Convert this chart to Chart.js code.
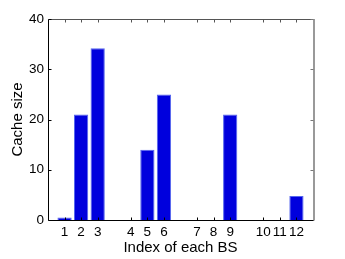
<!DOCTYPE html>
<html>
<head>
<meta charset="utf-8">
<script src="https://cdn.jsdelivr.net/npm/chart.js@4/dist/chart.umd.min.js"></script>
<style>
  html, body { margin: 0; padding: 0; background: #fff; }
  #wrap { width: 345px; height: 259px; position: relative; }
</style>
</head>
<body>
<div id="wrap"><canvas id="chart"></canvas></div>
<script>
// BS index labels, where each sits on the x axis, and the cache size bars
const bsLabels = ["1", "2", "3", "4", "5", "6", "7", "8", "9", "10", "11", "12"];
const bsPositions = [1, 2, 3, 5, 6, 7, 9, 10, 11, 13, 14, 15];
const cacheSize = [0.5, 21, 34.2, 0, 14, 25, 0, 0, 21, 0, 0, 4.8];
const yTicks = [0, 10, 20, 30, 40];

Chart.defaults.font.family = "'Liberation Sans', Arial, sans-serif";
Chart.defaults.font.size = 13.5;
Chart.defaults.color = "#000";

// matlab-ish box with inward tick marks
const boxTicks = {
  id: "boxTicks",
  afterDraw(chart) {
    const { ctx, chartArea: a, scales } = chart;
    const L = Math.round(a.left) + 0.5, R = Math.round(a.right) + 0.5;
    const T = Math.round(a.top) + 0.5, B = Math.round(a.bottom) + 0.5;
    const tl = 3;
    ctx.save();
    ctx.lineWidth = 1;

    // top + right edges (grey)
    ctx.strokeStyle = "#555";
    ctx.beginPath(); ctx.moveTo(L, T); ctx.lineTo(R, T); ctx.stroke();
    bsPositions.forEach(v => {
      const x = Math.round(scales.x.getPixelForValue(v)) + 0.5;
      ctx.beginPath(); ctx.moveTo(x, T); ctx.lineTo(x, T + tl); ctx.stroke();
    });
    ctx.strokeStyle = "#999";
    ctx.lineWidth = 2;
    ctx.beginPath(); ctx.moveTo(R + 0.5, T - 0.5); ctx.lineTo(R + 0.5, B); ctx.stroke();
    ctx.lineWidth = 1;
    ctx.strokeStyle = "#777";
    yTicks.forEach(v => {
      const y = Math.round(scales.y.getPixelForValue(v)) + 0.5;
      ctx.beginPath(); ctx.moveTo(R, y); ctx.lineTo(R - tl, y); ctx.stroke();
    });

    // left + bottom axes (black)
    ctx.strokeStyle = "#000";
    ctx.beginPath(); ctx.moveTo(L, T); ctx.lineTo(L, B); ctx.lineTo(R, B); ctx.stroke();
    bsPositions.forEach(v => {
      const x = Math.round(scales.x.getPixelForValue(v)) + 0.5;
      ctx.beginPath(); ctx.moveTo(x, B); ctx.lineTo(x, B - tl); ctx.stroke();
    });
    yTicks.forEach(v => {
      const y = Math.round(scales.y.getPixelForValue(v)) + 0.5;
      ctx.beginPath(); ctx.moveTo(L, y); ctx.lineTo(L + tl, y); ctx.stroke();
    });
    ctx.restore();
  }
};

new Chart(document.getElementById("chart"), {
  type: "bar",
  data: {
    datasets: [{
      data: bsPositions.map((x, i) => ({ x: x, y: cacheSize[i] })),
      backgroundColor: "#0000dd",
      borderColor: "#5566ee",
      borderWidth: 1,
      borderSkipped: "bottom",
      categoryPercentage: 1,
      barPercentage: 0.86
    }]
  },
  options: {
    responsive: true,
    maintainAspectRatio: false,
    devicePixelRatio: 1,
    animation: false,
    layout: { padding: { top: 19, right: 32, left: 0, bottom: 0 } },
    plugins: { legend: { display: false }, tooltip: { enabled: false } },
    scales: {
      x: {
        type: "linear",
        min: 0,
        max: 16,
        offset: false,
        grid: { display: false, drawTicks: false },
        border: { display: false },
        afterBuildTicks: (s) => { s.ticks = bsPositions.map(v => ({ value: v })); },
        afterFit: (s) => { s.height = 39; },
        ticks: {
          autoSkip: false,
          maxRotation: 0,
          padding: 4,
          callback: (v, i) => bsLabels[i]
        },
        title: {
          display: true,
          text: "Index of each BS",
          font: { size: 15 },
          padding: { top: 0, bottom: 2 }
        }
      },
      y: {
        min: 0,
        max: 40,
        grid: { display: false, drawTicks: false },
        border: { display: false },
        afterBuildTicks: (s) => { s.ticks = yTicks.map(v => ({ value: v })); },
        afterFit: (s) => { s.width = 48; },
        ticks: { padding: 4 },
        title: {
          display: true,
          text: "Cache size",
          font: { size: 15 },
          padding: { top: 9, bottom: 0 }
        }
      }
    }
  },
  plugins: [boxTicks]
});
</script>
</body>
</html>
